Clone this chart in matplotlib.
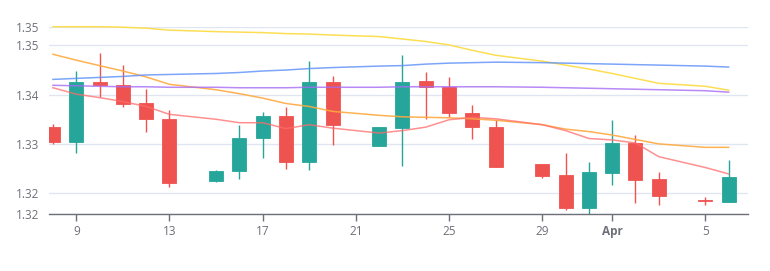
import matplotlib
matplotlib.use("Agg")
import matplotlib.pyplot as plt
import matplotlib.dates as mdates
import numpy as np
import pandas as pd

dates = ["2020-03-08", "2020-03-09", "2020-03-10", "2020-03-11", "2020-03-12", "2020-03-13",
         "2020-03-15", "2020-03-16", "2020-03-17", "2020-03-18", "2020-03-19", "2020-03-20",
         "2020-03-22", "2020-03-23", "2020-03-24", "2020-03-25", "2020-03-26", "2020-03-27",
         "2020-03-29", "2020-03-30", "2020-03-31", "2020-04-01", "2020-04-02", "2020-04-03",
         "2020-04-05", "2020-04-06"]

open_ = [1.3334, 1.3303, 1.3425, 1.3420, 1.3383, 1.3351, 1.3224, 1.3244, 1.3312, 1.3356, 1.3263, 1.3425, 1.3296,
         1.3333, 1.3427, 1.3415, 1.3363, 1.3334, 1.3259, 1.3237, 1.3169, 1.3240, 1.3301, 1.3228, 1.3187, 1.3182]
close = [1.3303, 1.3425, 1.3420, 1.3382, 1.3350, 1.3220, 1.3244, 1.3312, 1.3356, 1.3263, 1.3425, 1.3338, 1.3334,
         1.3425, 1.3416, 1.3363, 1.3334, 1.3254, 1.3235, 1.3169, 1.3242, 1.3302, 1.3227, 1.3194, 1.3183, 1.3233]
high = [1.3341, 1.3448, 1.3485, 1.3460, 1.3411, 1.3369, 1.3247, 1.3339, 1.3365, 1.3375, 1.3468, 1.3437, 1.3335,
        1.3480, 1.3446, 1.3436, 1.3378, 1.3348, 1.3259, 1.3282, 1.3263, 1.3348, 1.3319, 1.3242, 1.3193, 1.3268]
low = [1.3299, 1.3281, 1.3395, 1.3375, 1.3325, 1.3213, 1.3222, 1.3228, 1.3271, 1.3249, 1.3246, 1.3298, 1.3295,
       1.3255, 1.3351, 1.3354, 1.3309, 1.3254, 1.3231, 1.3165, 1.3157, 1.3216, 1.3179, 1.3175, 1.3176, 1.3182]

ma_yellow = [1.3538, 1.3538, 1.3538, 1.3537, 1.3535, 1.3531, 1.3528, 1.3527, 1.3526, 1.3524, 1.3523, 1.3521, 1.3518,
             1.3513, 1.3508, 1.3501, 1.3490, 1.3480, 1.3468, 1.3460, 1.3452, 1.3443, 1.3433, 1.3423, 1.3417, 1.3409]
ma_orange = [1.3482, 1.3470, 1.3459, 1.3448, 1.3436, 1.3421, 1.3410, 1.3402, 1.3393, 1.3382, 1.3376, 1.3366, 1.3358,
             1.3355, 1.3354, 1.3353, 1.3351, 1.3348, 1.3339, 1.3330, 1.3325, 1.3318, 1.3309, 1.3300, 1.3293, 1.3293]
ma_blue = [1.3431, 1.3433, 1.3435, 1.3437, 1.3440, 1.3441, 1.3443, 1.3445, 1.3448, 1.3450, 1.3453, 1.3455, 1.3458,
           1.3459, 1.3462, 1.3464, 1.3465, 1.3466, 1.3465, 1.3464, 1.3463, 1.3462, 1.3461, 1.3460, 1.3458, 1.3456]
ma_purple = [1.3419, 1.3418, 1.3417, 1.3416, 1.3416, 1.3415, 1.3415, 1.3414, 1.3414, 1.3414, 1.3415, 1.3415, 1.3415,
             1.3416, 1.3416, 1.3416, 1.3416, 1.3416, 1.3415, 1.3414, 1.3413, 1.3412, 1.3411, 1.3410, 1.3408, 1.3405]
ma_red = [1.3414, 1.3401, 1.3394, 1.3386, 1.3376, 1.3360, 1.3350, 1.3343, 1.3343, 1.3331, 1.3339, 1.3332, 1.3322,
          1.3327, 1.3334, 1.3349, 1.3354, 1.3351, 1.3339, 1.3327, 1.3311, 1.3308, 1.3302, 1.3274, 1.3252, 1.3239]

x_ticks = ["2020-03-09", "2020-03-13", "2020-03-17", "2020-03-21", "2020-03-25", "2020-03-29", "2020-04-01", "2020-04-05"]
x_labels = ["9", "13", "17", "21", "25", "29", "Apr", "5"]

up_col = "#26a69a"
down_col = "#ef5350"
txt_col = "#6e7079"

plt.rcParams['font.family'] = ['Open Sans', 'DejaVu Sans']

fig = plt.figure(figsize=(7.7, 2.71), dpi=100)
ax = fig.add_axes([49/770, (271-214.3)/271, (748-49)/770, (214.3-26.7)/271])

x = mdates.date2num(pd.to_datetime(dates))
o = np.array(open_); c = np.array(close)
cols = [up_col if cc >= oo else down_col for oo, cc in zip(o, c)]

ax.vlines(x, low, high, colors=cols, linewidth=1, zorder=2)
ax.bar(x, np.abs(c - o), bottom=np.minimum(o, c), width=0.6, color=cols,
       edgecolor=cols, linewidth=0.6, zorder=3)

# moving average lines
ax.plot(x, ma_yellow, color="#fddc4a", lw=1.1, alpha=0.95, zorder=4, clip_on=False)
ax.plot(x, ma_orange, color="#ffa940", lw=1.1, alpha=0.9, zorder=4)
ax.plot(x, ma_blue, color="#5b8ff9", lw=1.1, alpha=0.8, zorder=4)
ax.plot(x, ma_purple, color="#a66cf5", lw=1.1, alpha=0.8, zorder=4)
ax.plot(x, ma_red, color="#ff6b6b", lw=1.1, alpha=0.75, zorder=4)

ymin, ymax = 1.3157, 1.3538
ax.set_ylim(ymin, ymax)
ax.set_xlim(x[0] - 0.17, x[0] + 29.83)

ax.set_yticks([ymin, 1.32, 1.33, 1.34, 1.35, ymax])
ax.set_yticklabels(["%.2f" % v for v in [ymin, 1.32, 1.33, 1.34, 1.35, ymax]])
ax.grid(axis='y', color="#e0e6f1", linewidth=1, zorder=0)
ax.set_axisbelow(True)

xt = mdates.date2num(pd.to_datetime(x_ticks))
ax.set_xticks(xt)
ax.set_xticklabels(x_labels)
for lab in ax.get_xticklabels():
    if lab.get_text() == "Apr":
        lab.set_fontweight("bold")

ax.tick_params(axis='y', length=0, pad=7, labelsize=8.5, labelcolor=txt_col)
ax.tick_params(axis='x', length=5, width=1, color=txt_col, pad=3, labelsize=8.5, labelcolor=txt_col)

for s in ['top', 'right', 'left']:
    ax.spines[s].set_visible(False)
ax.spines['bottom'].set_color(txt_col)
ax.spines['bottom'].set_linewidth(1)

fig.savefig("out.png", dpi=100)
